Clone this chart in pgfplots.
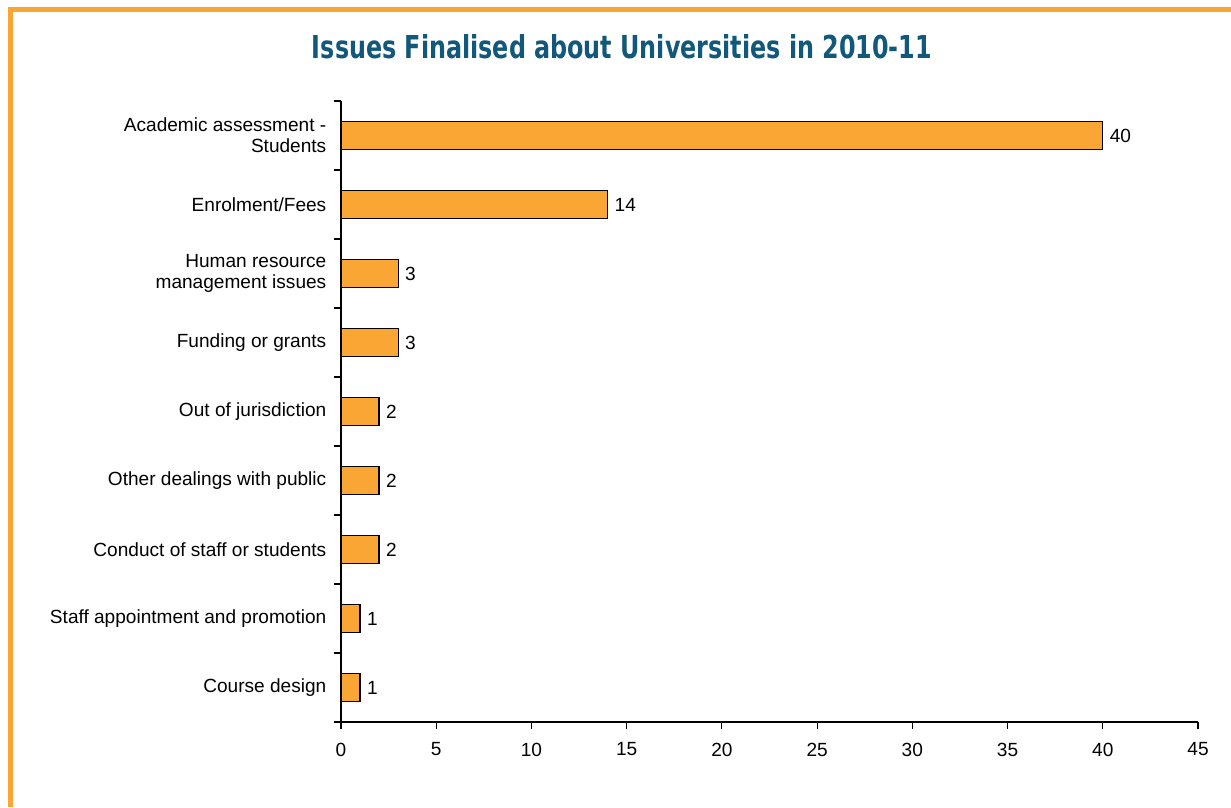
\documentclass[border=0pt]{standalone}
\usepackage{fontspec}
\setmainfont{Liberation Sans}
\newfontfamily\titlefont{DejaVu Sans Condensed}
\usepackage{pgfplots}
\pgfplotsset{compat=1.18}
\definecolor{barorange}{RGB}{249,166,53}
\definecolor{titleteal}{RGB}{18,88,122}
\begin{document}
\begin{tikzpicture}[x=0.75pt,y=0.75pt]
\useasboundingbox (0,0) rectangle (1231,807);
% orange frame (left and top)
\fill[barorange] (8,0) rectangle (13,800);
\fill[barorange] (8,795) rectangle (1231,800);
% title
\node[text=titleteal, inner sep=0pt] at (622,760) {\resizebox{465pt}{18pt}{\titlefont\bfseries Issues Finalised about Universities in 2010-11}};
\begin{axis}[
  at={(255.75pt,63.75pt)}, anchor=south west,
  scale only axis,
  width=642.75pt, height=465.75pt,
  xbar, bar width=21pt,
  xmin=0, xmax=45,
  ymin=-0.5, ymax=8.5,
  xtick={0,5,...,45},
  ytick={-0.5,0.5,...,8.5},
  yticklabels={},
  extra y ticks={0,...,8},
  extra y tick labels={Course design, Staff appointment and promotion, Conduct of staff or students, Other dealings with public, Out of jurisdiction, Funding or grants, {Human resource\\management issues}, Enrolment/Fees, {Academic assessment -\\Students}},
  extra y tick style={major tick length=0pt, tick style={draw=none}, yticklabel style={align=right, xshift=-7.5pt}},
  axis x line*=bottom, axis y line*=left,
  axis line style={-, line width=0.9pt, black},
  tick align=outside,
  major tick length=5pt,
  tick style={line width=0.8pt, black},
  every tick label/.append style={font=\fontsize{14.3}{16}\selectfont},
  /pgf/number format/assume math mode=true,
  xticklabel style={yshift=-7pt},
  nodes near coords,
  every node near coord/.append style={font=\fontsize{14.3}{16}\selectfont, xshift=1.5pt},
  clip=false,
]
\addplot[fill=barorange, draw=black, line width=0.9pt] coordinates {
  (1,0) (1,1) (2,2) (2,3) (2,4) (3,5) (3,6) (14,7) (40,8)
};
\end{axis}
\end{tikzpicture}
\end{document}
